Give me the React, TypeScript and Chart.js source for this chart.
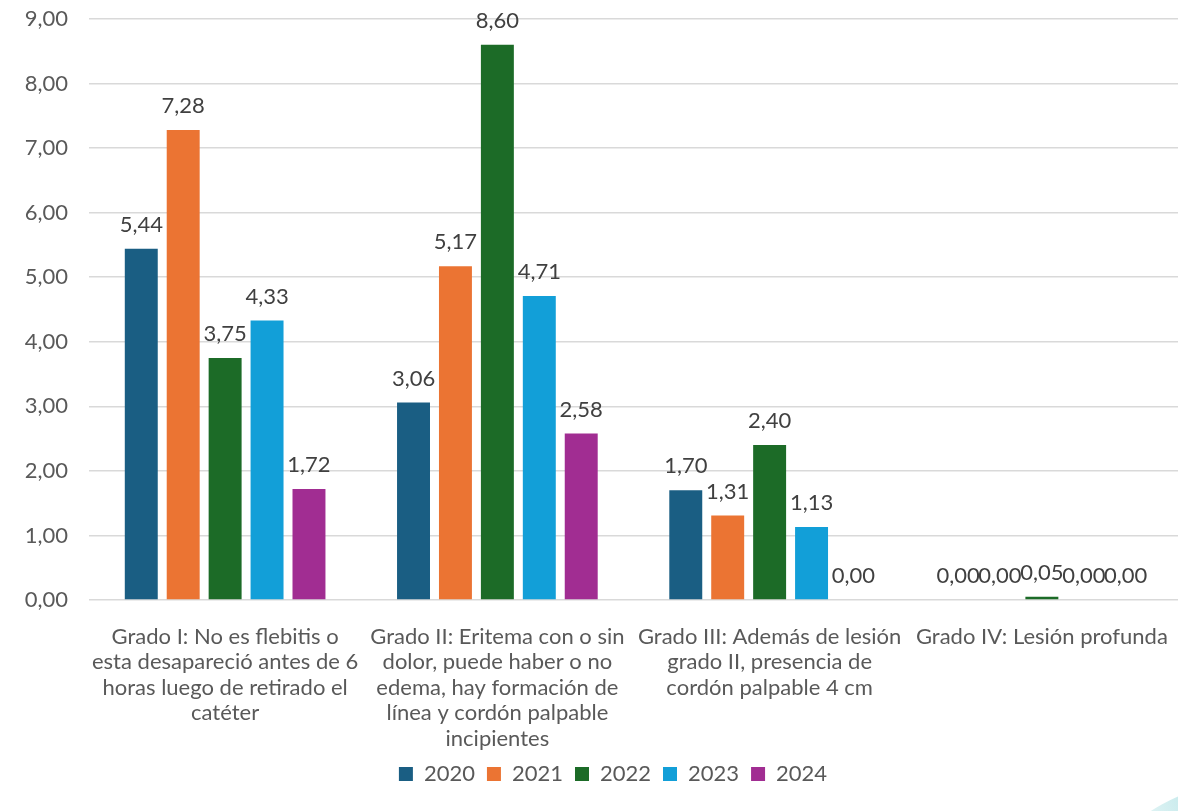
import React, { useEffect, useRef } from "react";
import { Chart, registerables } from "chart.js";

Chart.register(...registerables);

const categories: string[][] = [
  ["Grado I: No es flebitis o", "esta desapareció antes de 6", "horas luego de retirado el", "catéter"],
  ["Grado II: Eritema con o sin", "dolor, puede haber o no", "edema, hay formación de", "línea y cordón palpable", "incipientes"],
  ["Grado III: Además de lesión", "grado II, presencia de", "cordón palpable 4 cm"],
  ["Grado IV: Lesión profunda"],
];
const years = ["2020", "2021", "2022", "2023", "2024"];
const v2020 = [5.44, 3.06, 1.7, 0.0];
const v2021 = [7.28, 5.17, 1.31, 0.0];
const v2022 = [3.75, 8.6, 2.4, 0.05];
const v2023 = [4.33, 4.71, 1.13, 0.0];
const v2024 = [1.72, 2.58, 0.0, 0.0];
const seriesValues = [v2020, v2021, v2022, v2023, v2024];
const colors = ["#1A5E83", "#EB7433", "#1C6B27", "#129FD8", "#A12D92"];
const yMin = 0;
const yMax = 9;
const yStep = 1;

const FONT = "Lato, 'Open Sans', sans-serif";
const TEXT = "#595959";
const fmt = (v: number) => v.toFixed(2).replace(".", ",");

const valueLabels = {
  id: "valueLabels",
  afterDatasetsDraw(chart: any) {
    const ctx = chart.ctx;
    ctx.save();
    ctx.font = `22px ${FONT}`;
    ctx.fillStyle = "#404040";
    ctx.textAlign = "center";
    ctx.textBaseline = "middle";
    chart.data.datasets.forEach((ds: any, i: number) => {
      const meta = chart.getDatasetMeta(i);
      meta.data.forEach((el: any, j: number) => {
        ctx.fillText(fmt(ds.data[j]), el.x, el.y - 24);
      });
    });
    ctx.restore();
  },
};

const legendShift = {
  id: "legendShift",
  afterLayout(chart: any) {
    if (chart.legend) {
      chart.legend.left += 24;
      chart.legend.right += 24;
    }
  },
};

export default function App() {
  const ref = useRef<HTMLCanvasElement | null>(null);
  useEffect(() => {
    if (!ref.current) return;
    const chart = new Chart(ref.current, {
      type: "bar",
      data: {
        labels: categories,
        datasets: years.map((y, i) => ({
          label: y,
          data: seriesValues[i],
          backgroundColor: colors[i],
          borderWidth: 0,
          categoryPercentage: 0.77,
          barPercentage: 0.786,
        })),
      },
      options: {
        animation: false,
        responsive: false,
        maintainAspectRatio: false,
        layout: { padding: { top: 19, right: 0, left: 0, bottom: 16 } },
        plugins: {
          legend: {
            position: "bottom",
            labels: {
              boxWidth: 14,
              boxHeight: 14,
              padding: 12,
              color: TEXT,
              font: { family: FONT, size: 22 },
            },
          },
          tooltip: { enabled: false },
        },
        scales: {
          x: {
            grid: { display: false, drawTicks: false },
            border: { display: false },
            ticks: {
              color: TEXT,
              font: { family: FONT, size: 22, lineHeight: 1.16 },
              autoSkip: false,
              maxRotation: 0,
              minRotation: 0,
              padding: 24,
            },
            afterFit: (s: any) => {
              s.height = 151;
              s.paddingLeft = 0;
              s.paddingRight = 0;
            },
          },
          y: {
            min: yMin,
            max: yMax,
            border: { display: false },
            grid: { color: "#D9D9D9", lineWidth: 1.5, drawTicks: false },
            ticks: {
              stepSize: yStep,
              color: TEXT,
              font: { family: FONT, size: 22 },
              padding: 21,
              callback: (v: any) => fmt(Number(v)),
            },
            afterFit: (s: any) => {
              s.width = 89;
              s.paddingTop = 0;
              s.paddingBottom = 0;
            },
          },
        },
      },
      plugins: [valueLabels, legendShift],
    });
    return () => chart.destroy();
  }, []);
  return (
    <div style={{ position: "fixed", left: 0, top: 0, width: 1178, height: 811, background: "#fff", overflow: "hidden" }}>
      <div
        style={{
          position: "absolute",
          left: 1120,
          top: 790,
          width: 160,
          height: 60,
          borderRadius: "50%",
          transform: "rotate(-20deg)",
          background: "linear-gradient(90deg, rgba(200,235,235,0.2), rgba(120,205,210,0.8))",
        }}
      />
      <canvas ref={ref} width={1178} height={811} style={{ position: "relative", width: 1178, height: 811, display: "block" }} />
    </div>
  );
}
